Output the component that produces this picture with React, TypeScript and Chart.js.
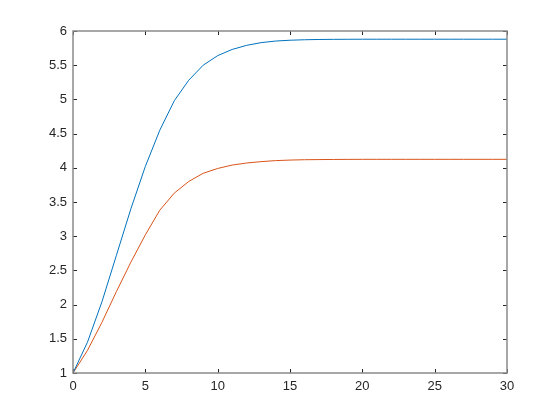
import React, { useEffect, useRef } from "react";
import { Chart, registerables } from "chart.js";

Chart.register(...registerables);

const xValues = [0, 1, 2, 3, 4, 5, 6, 7, 8, 9, 10, 11, 12, 13, 14, 15, 16, 17, 18, 19, 20, 21, 22, 23, 24, 25, 26, 27, 28, 29, 30];
const blueSeries = [1, 1.45, 2.04, 2.72, 3.4, 4.02, 4.55, 4.98, 5.28, 5.5, 5.64, 5.73, 5.79, 5.83, 5.853, 5.865, 5.872, 5.876, 5.878, 5.879, 5.88, 5.88, 5.88, 5.88, 5.88, 5.88, 5.88, 5.88, 5.88, 5.88, 5.88];
const orangeSeries = [1, 1.33, 1.74, 2.19, 2.62, 3.02, 3.38, 3.63, 3.8, 3.92, 3.99, 4.04, 4.07, 4.09, 4.105, 4.113, 4.118, 4.12, 4.122, 4.123, 4.124, 4.124, 4.124, 4.124, 4.124, 4.124, 4.124, 4.124, 4.124, 4.124, 4.124];
const xTicks = [0, 5, 10, 15, 20, 25, 30];
const yTicks = [1, 1.5, 2, 2.5, 3, 3.5, 4, 4.5, 5, 5.5, 6];

const FONT = "'Liberation Sans', Arial, Helvetica, sans-serif";

const boxPlugin = {
  id: "matlabBox",
  afterDraw(chart: any) {
    const { ctx, chartArea } = chart;
    const { left, right, top, bottom } = chartArea;
    const xs = chart.scales.x;
    const ys = chart.scales.y;
    ctx.save();
    ctx.strokeStyle = "#262626";
    ctx.lineWidth = 1;
    const tl = 4;
    ctx.beginPath();
    xTicks.forEach((v) => {
      const px = Math.round(xs.getPixelForValue(v)) + 0.5;
      ctx.moveTo(px, bottom);
      ctx.lineTo(px, bottom - tl);
      ctx.moveTo(px, top);
      ctx.lineTo(px, top + tl);
    });
    yTicks.forEach((v) => {
      const py = Math.round(ys.getPixelForValue(v)) + 0.5;
      ctx.moveTo(left, py);
      ctx.lineTo(left + tl, py);
      ctx.moveTo(right, py);
      ctx.lineTo(right - tl, py);
    });
    ctx.stroke();
    ctx.strokeStyle = "#8a8a8a";
    ctx.lineWidth = 1.5;
    ctx.strokeRect(left, top, right - left, bottom - top);
    ctx.restore();
  },
};

export default function App() {
  const ref = useRef<HTMLCanvasElement>(null);
  useEffect(() => {
    if (!ref.current) return;
    const chart = new Chart(ref.current, {
      type: "line",
      data: {
        datasets: [
          {
            data: xValues.map((x, i) => ({ x, y: blueSeries[i] })),
            borderColor: "#0072BD",
            borderWidth: 1,
            pointRadius: 0,
            tension: 0,
            fill: false,
          },
          {
            data: xValues.map((x, i) => ({ x, y: orangeSeries[i] })),
            borderColor: "#D95319",
            borderWidth: 1,
            pointRadius: 0,
            tension: 0,
            fill: false,
          },
        ],
      },
      options: {
        animation: false,
        responsive: false,
        maintainAspectRatio: false,
        layout: { padding: { left: 0, top: 31, right: 53, bottom: 0 } },
        plugins: { legend: { display: false }, tooltip: { enabled: false } },
        scales: {
          x: {
            type: "linear",
            min: 0,
            max: 30,
            grid: { display: false, drawTicks: false },
            border: { display: false },
            afterBuildTicks: (s: any) => {
              s.ticks = xTicks.map((v) => ({ value: v }));
            },
            afterFit: (s: any) => {
              s.height = 47;
            },
            ticks: {
              color: "#262626",
              font: { family: FONT, size: 13 },
              padding: 6,
              maxRotation: 0,
              callback: (v: any) => String(v),
            },
          },
          y: {
            type: "linear",
            min: 1,
            max: 6,
            grid: { display: false, drawTicks: false },
            border: { display: false },
            afterBuildTicks: (s: any) => {
              s.ticks = yTicks.map((v) => ({ value: v }));
            },
            afterFit: (s: any) => {
              s.width = 73;
            },
            ticks: {
              color: "#262626",
              font: { family: FONT, size: 13 },
              padding: 6,
              callback: (v: any) => String(v),
            },
          },
        },
      },
      plugins: [boxPlugin],
    });
    return () => chart.destroy();
  }, []);
  return (
    <div style={{ position: "fixed", left: 0, top: 0, width: 560, height: 420, background: "#fff" }}>
      <canvas ref={ref} width={560} height={420} style={{ width: 560, height: 420 }} />
    </div>
  );
}
